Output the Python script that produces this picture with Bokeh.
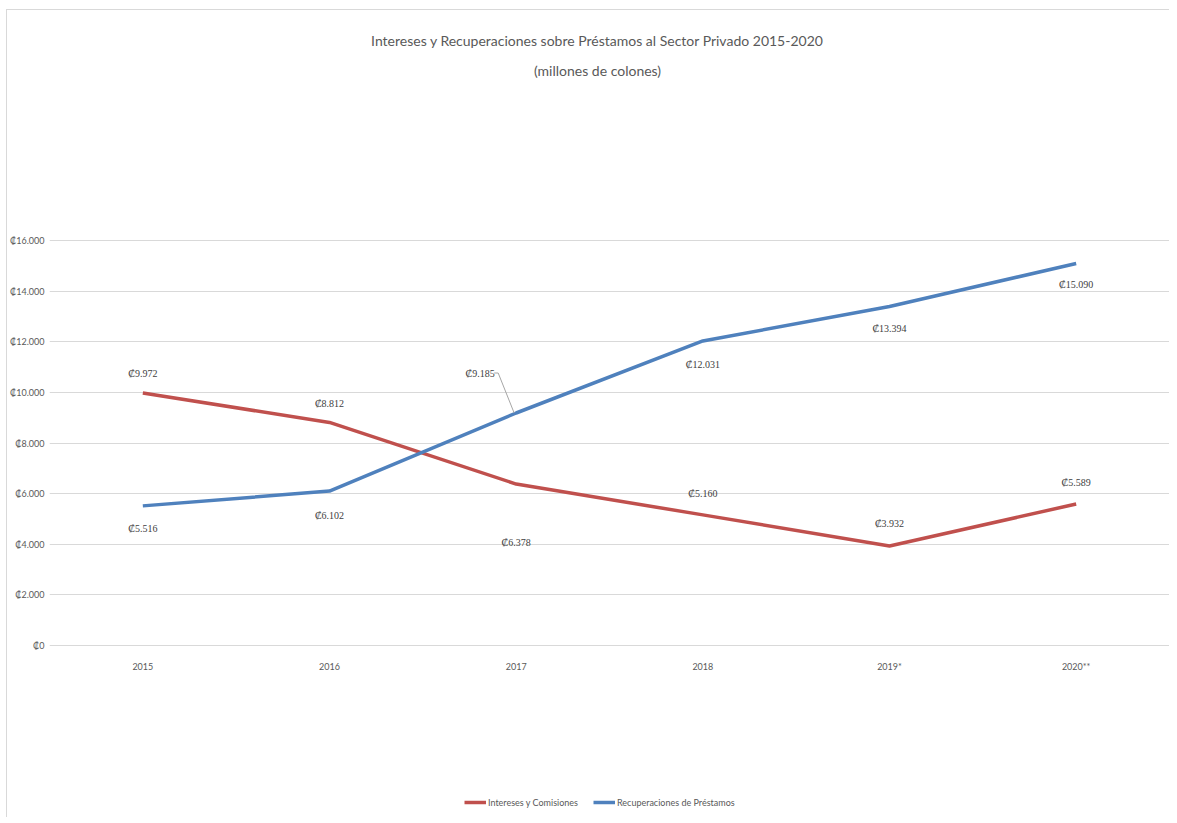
from bokeh.plotting import figure
from bokeh.models import (ColumnDataSource, LabelSet, Label, Range1d, FixedTicker,
                          Legend, LegendItem)
from bokeh.embed import file_html
from bokeh.resources import INLINE

# ---- data ----
years = ["2015", "2016", "2017", "2018", "2019*", "2020**"]
intereses = [9972, 8812, 6378, 5160, 3932, 5589]
recuperaciones = [5516, 6102, 9185, 12031, 13394, 15090]
y_ticks = [0, 2000, 4000, 6000, 8000, 10000, 12000, 14000, 16000]
y_tick_labels = ["₡0", "₡2.000", "₡4.000", "₡6.000", "₡8.000", "₡10.000",
                 "₡12.000", "₡14.000", "₡16.000"]
int_labels = ["₡9.972", "₡8.812", "₡6.378", "₡5.160", "₡3.932", "₡5.589"]
rec_labels = ["₡5.516", "₡6.102", "₡9.185", "₡12.031", "₡13.394", "₡15.090"]
series_names = ["Intereses y Comisiones", "Recuperaciones de Préstamos"]
title1 = "Intereses y Recuperaciones sobre Préstamos al Sector Privado 2015-2020"
title2 = "(millones de colones)"

# ---- styles / layout ----
RED = "#C0504D"
BLUE = "#4F81BD"
TXT = "#595959"
FONT = "Lato"
W, H = 1163, 808
ML, MR, MT, MB = 40, 1, 2, 0
AXIS_PANEL = 0            # x-axis is drawn at a fixed location inside the frame
FW = W - ML - MR
FH = H - MT - MB - AXIS_PANEL
TOP16 = 230 - MT          # px from frame top to the 16000 line
PX_PER_UNIT = 405 / 16000
y_top = 16000 + TOP16 / PX_PER_UNIT
y_bot = 16000 - (FH - TOP16) / PX_PER_UNIT
n = len(years)
int_yoff = [20, 19, -58, 21, 22, 22]
rec_yoff = [-23, -24, 40, -24, -22, -21]
rec_xoff = [0, 0, -36, 0, 0, 0]

xs = list(range(n))
p = figure(width=W, height=H, output_backend="svg", toolbar_location=None,
           x_range=Range1d(-0.5, n - 0.5), y_range=Range1d(y_bot, y_top),
           min_border_left=ML, min_border_right=MR, min_border_top=MT,
           min_border_bottom=MB, outline_line_color=None,
           background_fill_color="white", border_fill_color="white")
p.styles = {"margin-left": "6px", "margin-top": "9px",
            "border-top": "1px solid #D9D9D9", "border-left": "1px solid #D9D9D9"}

p.xgrid.grid_line_color = None
p.ygrid.grid_line_color = "#D9D9D9"
p.ygrid.grid_line_width = 1
p.ygrid.ticker = FixedTicker(ticks=y_ticks)

p.yaxis.ticker = FixedTicker(ticks=y_ticks)
p.yaxis.major_label_overrides = {t: l for t, l in zip(y_ticks, y_tick_labels)}
p.xaxis.ticker = FixedTicker(ticks=xs)
p.xaxis.major_label_overrides = {i: y for i, y in enumerate(years)}
p.xaxis.fixed_location = 0
for ax in (p.xaxis[0], p.yaxis[0]):
    ax.axis_line_color = None
    ax.major_tick_line_color = None
    ax.minor_tick_line_color = None
    ax.major_tick_out = 0
    ax.major_tick_in = 0
    ax.minor_tick_out = 0
    ax.major_label_text_font = FONT
    ax.major_label_text_font_size = "9px"
    ax.major_label_text_color = TXT
p.yaxis.major_label_standoff = 5
p.xaxis.major_label_standoff = 15

r1 = p.line(xs, intereses, line_color=RED, line_width=3.5)
r2 = p.line(xs, recuperaciones, line_color=BLUE, line_width=3.5)

# leader line for the 9.185 label
px_x = n / FW
lx = [xs[2] - 2 * px_x, xs[2] - 18 * px_x, xs[2] - 22 * px_x]
ly = [recuperaciones[2], recuperaciones[2] + 40 / PX_PER_UNIT,
      recuperaciones[2] + 40 / PX_PER_UNIT]
p.line(lx, ly, line_color="#A6A6A6", line_width=1)

src1 = ColumnDataSource(dict(x=xs, y=intereses, t=int_labels, yo=int_yoff))
src2 = ColumnDataSource(dict(x=xs, y=recuperaciones, t=rec_labels,
                             yo=rec_yoff, xo=rec_xoff))
p.add_layout(LabelSet(x="x", y="y", text="t", source=src1, y_offset="yo",
                      text_align="center", text_baseline="middle",
                      text_font=FONT, text_font_size="10px", text_color="#404040"))
p.add_layout(LabelSet(x="x", y="y", text="t", source=src2, y_offset="yo",
                      x_offset="xo", text_align="center", text_baseline="middle",
                      text_font=FONT, text_font_size="10px", text_color="#404040"))

# titles
for txt, off in ((title1, 200), (title2, 170)):
    p.add_layout(Label(x=(n - 1) / 2, y=16000, y_offset=off, x_offset=-12,
                       text=txt, text_align="center", text_baseline="middle",
                       text_font=FONT, text_font_size="14px", text_color=TXT))

legend = Legend(items=[LegendItem(label=series_names[0], renderers=[r1]),
                       LegendItem(label=series_names[1], renderers=[r2])],
                location=(415, FH - TOP16 - 405 - 157 - 6), orientation="horizontal",
                border_line_color=None, background_fill_alpha=0,
                padding=0, margin=0, spacing=15, glyph_width=22, glyph_height=12,
                label_height=12, label_standoff=2,
                label_text_font=FONT, label_text_font_size="9px",
                label_text_color=TXT)
p.add_layout(legend)

open("out.html", "w").write(file_html(p, INLINE))
